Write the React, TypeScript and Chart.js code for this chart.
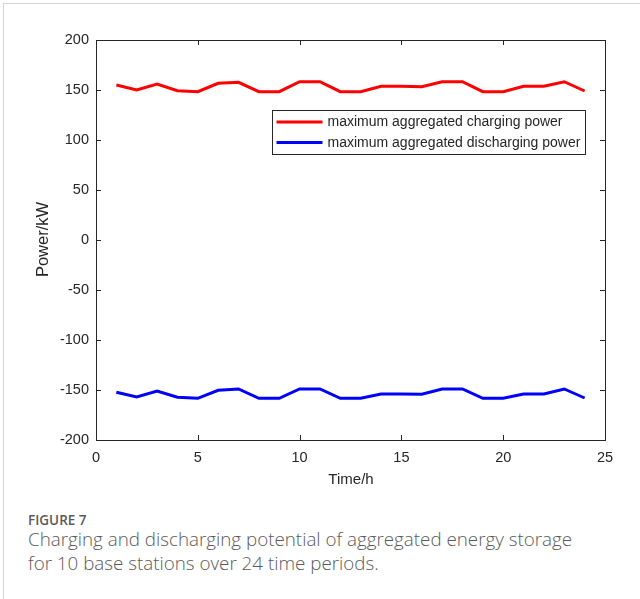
import React, { useEffect, useRef } from "react";
import { Chart, registerables } from "chart.js";

Chart.register(...registerables);

// Hourly periods and the aggregated storage limits (kW)
const hours = [1, 2, 3, 4, 5, 6, 7, 8, 9, 10, 11, 12, 13, 14, 15, 16, 17, 18, 19, 20, 21, 22, 23, 24];
const chargingPower = [155, 150, 156, 149.3, 148.3, 156.7, 157.7, 148.3, 148.3, 158.3, 158.3, 148.3, 148.3, 153.7, 153.7, 153.3, 158.3, 158.3, 148.3, 148.3, 153.7, 153.7, 158.3, 149];
const dischargingPower = [-152.3, -157, -151, -157.3, -158.3, -150.3, -149, -158.3, -158.3, -149, -149, -158.3, -158.3, -154, -154, -154.3, -149, -149, -158.3, -158.3, -154, -154, -149, -158];
const seriesLabels = ["maximum aggregated charging power", "maximum aggregated discharging power"];
const seriesColors = ["#ff0000", "#0000ff"];
const xTitle = "Time/h";
const yTitle = "Power/kW";

const AXIS_COLOR = "#262626";
const FONT = "Arial, 'Liberation Sans', Helvetica, sans-serif";

// Box around the plot with inward ticks on all four sides, axis titles and legend
const framePlugin = {
  id: "frame",
  afterDraw(chart: any) {
    const { ctx, chartArea: a, scales } = chart;
    const xs = scales.x;
    const ys = scales.y;
    const len = 5;
    ctx.save();
    ctx.strokeStyle = AXIS_COLOR;
    ctx.lineWidth = 1;
    ctx.beginPath();
    xs.ticks.forEach((t: any) => {
      const px = Math.round(xs.getPixelForValue(t.value)) + 0.5;
      ctx.moveTo(px, a.bottom);
      ctx.lineTo(px, a.bottom - len);
      ctx.moveTo(px, a.top);
      ctx.lineTo(px, a.top + len);
    });
    ys.ticks.forEach((t: any) => {
      const py = Math.round(ys.getPixelForValue(t.value)) + 0.5;
      ctx.moveTo(a.left, py);
      ctx.lineTo(a.left + len, py);
      ctx.moveTo(a.right, py);
      ctx.lineTo(a.right - len, py);
    });
    ctx.stroke();
    ctx.strokeRect(Math.round(a.left) + 0.5, Math.round(a.top) + 0.5, Math.round(a.right - a.left), Math.round(a.bottom - a.top));

    // axis titles
    ctx.fillStyle = AXIS_COLOR;
    ctx.textAlign = "center";
    ctx.textBaseline = "middle";
    ctx.font = `15px ${FONT}`;
    ctx.fillText(xTitle, (a.left + a.right) / 2 + 0.5, a.bottom + 40);
    ctx.save();
    ctx.font = `16.5px ${FONT}`;
    ctx.translate(a.left - 53, (a.top + a.bottom) / 2 - 0.5);
    ctx.rotate(-Math.PI / 2);
    ctx.fillText(yTitle, 0, 0);
    ctx.restore();

    // legend
    const lx = 272.5, ly = 110.5, lw = 313, lh = 44;
    ctx.fillStyle = "#ffffff";
    ctx.fillRect(lx, ly, lw, lh);
    ctx.strokeStyle = AXIS_COLOR;
    ctx.lineWidth = 1;
    ctx.strokeRect(lx, ly, lw, lh);
    ctx.font = `14px ${FONT}`;
    ctx.textAlign = "left";
    seriesLabels.forEach((label, i) => {
      const yy = ly + 11.5 + i * 20.5;
      ctx.strokeStyle = seriesColors[i];
      ctx.lineWidth = 3;
      ctx.beginPath();
      ctx.moveTo(lx + 4, yy);
      ctx.lineTo(lx + 50, yy);
      ctx.stroke();
      ctx.fillStyle = AXIS_COLOR;
      ctx.fillText(label, lx + 55, yy + 0.5);
    });
    ctx.restore();
  },
};

export default function App() {
  const canvasRef = useRef<HTMLCanvasElement>(null);

  useEffect(() => {
    const canvas = canvasRef.current;
    if (!canvas) return;
    const chart = new Chart(canvas, {
      type: "line",
      data: {
        datasets: [
          {
            label: seriesLabels[0],
            data: hours.map((h, i) => ({ x: h, y: chargingPower[i] })),
            borderColor: seriesColors[0],
            backgroundColor: seriesColors[0],
            borderWidth: 3,
            pointRadius: 0,
            tension: 0,
          },
          {
            label: seriesLabels[1],
            data: hours.map((h, i) => ({ x: h, y: dischargingPower[i] })),
            borderColor: seriesColors[1],
            backgroundColor: seriesColors[1],
            borderWidth: 3,
            pointRadius: 0,
            tension: 0,
          },
        ],
      },
      options: {
        responsive: false,
        animation: false,
        devicePixelRatio: 1,
        layout: { padding: { left: 0, top: 40, right: 35, bottom: 0 } },
        plugins: { legend: { display: false }, tooltip: { enabled: false } },
        scales: {
          x: {
            type: "linear",
            min: 0,
            max: 25,
            border: { display: false },
            grid: { display: false, drawTicks: false },
            ticks: { stepSize: 5, padding: 9, color: AXIS_COLOR, font: { family: FONT, size: 14.5 }, maxRotation: 0 },
            afterFit: (s: any) => { s.height = 60; },
          },
          y: {
            min: -200,
            max: 200,
            border: { display: false },
            grid: { display: false, drawTicks: false },
            ticks: { stepSize: 50, padding: 7, color: AXIS_COLOR, font: { family: FONT, size: 14.5 } },
            afterFit: (s: any) => { s.width = 96; },
          },
        },
      },
      plugins: [framePlugin],
    });
    return () => chart.destroy();
  }, []);

  return (
    <div
      style={{
        position: "absolute",
        left: 0,
        top: 0,
        width: 640,
        height: 599,
        background: "#ffffff",
        overflow: "hidden",
      }}
    >
      <div
        style={{
          position: "absolute",
          left: 3,
          top: 3,
          width: 637,
          height: 596,
          borderLeft: "1px solid #d4d4d4",
          borderTop: "1px solid #d4d4d4",
        }}
      />
      <canvas ref={canvasRef} width={640} height={500} style={{ position: "absolute", left: 0, top: 0 }} />
      <div
        style={{
          position: "absolute",
          left: 28,
          top: 513,
          fontFamily: "'Open Sans', Lato, sans-serif",
          color: "#5a5a5a",
          whiteSpace: "nowrap",
        }}
      >
        <div style={{ fontSize: 13.5, lineHeight: "14px", fontWeight: 600 }}>FIGURE 7</div>
        <div style={{ fontSize: 18.8, lineHeight: "24px", fontWeight: 300 }}>
          Charging and discharging potential of aggregated energy storage
          <br />
          for 10 base stations over 24 time periods.
        </div>
      </div>
    </div>
  );
}
